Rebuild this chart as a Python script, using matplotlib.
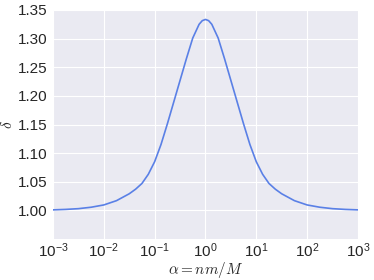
import matplotlib
matplotlib.use("Agg")
import matplotlib.pyplot as plt

# values (log10 of alpha, delta)
log_alpha = [-3.0, -2.75, -2.5, -2.25, -2.0, -1.75, -1.5, -1.375, -1.25, -1.125,
             -1.0, -0.875, -0.75, -0.625, -0.5, -0.375, -0.25, -0.125, -0.0625, 0.0,
             0.0625, 0.125, 0.25, 0.375, 0.5, 0.625, 0.75, 0.875, 1.0, 1.125,
             1.25, 1.375, 1.5, 1.75, 2.0, 2.25, 2.5, 2.75, 3.0]
delta = [1.0009, 1.0017, 1.003, 1.0055, 1.0095, 1.017, 1.029, 1.037, 1.047, 1.063,
         1.085, 1.115, 1.151, 1.189, 1.227, 1.265, 1.301, 1.325, 1.3314, 1.3335,
         1.3314, 1.325, 1.301, 1.265, 1.227, 1.189, 1.151, 1.115, 1.085, 1.063,
         1.047, 1.037, 1.029, 1.017, 1.0095, 1.0055, 1.003, 1.0017, 1.0009]
x_ticks = [1e-3, 1e-2, 1e-1, 1e0, 1e1, 1e2, 1e3]
y_ticks = [1.00, 1.05, 1.10, 1.15, 1.20, 1.25, 1.30, 1.35]

plt.style.use("seaborn-v0_8-darkgrid")
plt.rcParams["font.family"] = ["Liberation Sans", "DejaVu Sans"]
plt.rcParams["mathtext.fontset"] = "cm"

alpha = [10.0 ** v for v in log_alpha]

fig = plt.figure(figsize=(3.74, 2.80), dpi=100)
ax = fig.add_axes([0.1417, 0.1464, 0.8153, 0.8179])
ax.plot(alpha, delta, color="#5a80e6", linewidth=1.2)
ax.set_xscale("log")
ax.set_xlim(1e-3, 1e3)
ax.set_ylim(0.95, 1.35)
ax.set_xticks(x_ticks)
ax.set_yticks(y_ticks)
ax.set_yticklabels([f"{v:.2f}" for v in y_ticks])
ax.minorticks_off()
ax.tick_params(labelsize=11, length=0)
ax.tick_params(axis="x", pad=2)
ax.tick_params(axis="y", pad=4)
ax.set_xlabel(r"$\alpha = nm/M$", fontsize=11, va="center")
ax.set_ylabel(r"$\delta$", fontsize=11, va="center")
ax.xaxis.set_label_coords(0.5, -0.135)
ax.yaxis.set_label_coords(-0.148, 0.5)
for spine in ax.spines.values():
    spine.set_visible(False)

fig.savefig("out.png", dpi=100)
